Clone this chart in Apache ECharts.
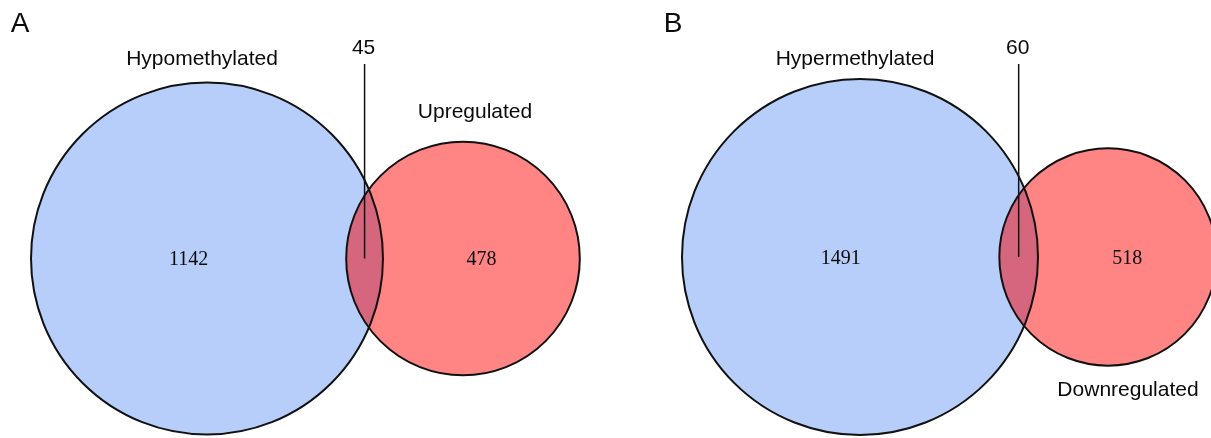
<!DOCTYPE html>
<html>
<head>
<meta charset="utf-8">
<title>Venn diagrams</title>
<script src="https://cdn.jsdelivr.net/npm/echarts@6/dist/echarts.min.js"></script>
<style>
  html, body { margin: 0; padding: 0; background: #fff; }
  #chart { width: 1211px; height: 438px; }
</style>
</head>
<body>
<div id="chart"></div>
<script>
// Panel letters and set names
const panels = ['A', 'B'];
const leftSets = ['Hypomethylated', 'Hypermethylated'];
const rightSets = ['Upregulated', 'Downregulated'];
// Gene counts per region
const leftOnly = [1142, 1491];
const shared = [45, 60];
const rightOnly = [478, 518];

// Placement of each diagram (pixel units of the hidden axes)
const layout = [
  { cx: 207, cy: 258.5, scale: 5.108, gap: 256, rightLabel: 'above' },
  { cx: 860, cy: 257, scale: 4.52, gap: 248, rightLabel: 'below' }
];

const W = 1211, H = 438;
const SANS = '"Liberation Sans", Arial, Helvetica, sans-serif';
const SERIF = '"Liberation Serif", "Times New Roman", serif';
const BLUE = '#B6CEF9';
const RED = '#FF8585';
const BOTH = '#D6657E';

function text(str, x, y, size, family) {
  return {
    type: 'text',
    style: {
      text: str, x: x, y: y,
      font: size + 'px ' + family,
      fill: '#0a0a0a',
      align: 'center',
      verticalAlign: 'middle'
    }
  };
}

function renderItem(params, api) {
  const i = params.dataIndex;
  const L = layout[i];
  const leftTotal = leftOnly[i] + shared[i];
  const rightTotal = rightOnly[i] + shared[i];
  // circle areas proportional to set sizes
  const r1 = api.size([L.scale * Math.sqrt(leftTotal), 0])[0];
  const r2 = api.size([L.scale * Math.sqrt(rightTotal), 0])[0];
  const c1 = api.coord([L.cx, L.cy]);
  const c2 = api.coord([L.cx + L.gap, L.cy]);
  const d = c2[0] - c1[0];
  const y = c1[1];

  // lens (intersection) outline
  const a = (d * d + r1 * r1 - r2 * r2) / (2 * d);
  const h = Math.sqrt(Math.max(r1 * r1 - a * a, 0));
  const t1 = Math.atan2(h, a);
  const t2 = Math.atan2(h, d - a);
  const pts = [];
  const N = 60;
  for (let k = 0; k <= N; k++) {
    const t = -t1 + (2 * t1) * k / N;
    pts.push([c1[0] + r1 * Math.cos(t), y + r1 * Math.sin(t)]);
  }
  for (let k = 0; k <= N; k++) {
    const t = Math.PI - t2 + (2 * t2) * k / N;
    pts.push([c2[0] + r2 * Math.cos(t), y - r2 * Math.sin(t)]);
  }

  const lensX = ((c2[0] - r2) + (c1[0] + r1)) / 2;
  const leftOnlyX = ((c1[0] - r1) + (c2[0] - r2)) / 2;
  const rightOnlyX = ((c1[0] + r1) + (c2[0] + r2)) / 2;
  const rightLabelPos = L.rightLabel === 'above'
    ? [c2[0] + 12, y - r2 - 29]
    : [c2[0] + 20, y + r2 + 25];

  return {
    type: 'group',
    children: [
      { type: 'circle', shape: { cx: c1[0], cy: y, r: r1 }, style: { fill: BLUE } },
      { type: 'circle', shape: { cx: c2[0], cy: y, r: r2 }, style: { fill: RED } },
      { type: 'polygon', shape: { points: pts }, style: { fill: BOTH } },
      { type: 'circle', shape: { cx: c1[0], cy: y, r: r1 }, style: { fill: 'none', stroke: '#111', lineWidth: 2 } },
      { type: 'circle', shape: { cx: c2[0], cy: y, r: r2 }, style: { fill: 'none', stroke: '#111', lineWidth: 2 } },
      { type: 'line', shape: { x1: lensX, y1: 64, x2: lensX, y2: y }, style: { stroke: '#111', lineWidth: 1.5 } },
      text(String(shared[i]), lensX - 1, 48, 21, SANS),
      text(String(leftOnly[i]), leftOnlyX, y + 1.5, 20, SERIF),
      text(String(rightOnly[i]), rightOnlyX, y + 1.5, 20, SERIF),
      text(leftSets[i], c1[0] - 5, 59, 21, SANS),
      text(rightSets[i], rightLabelPos[0], rightLabelPos[1], 21, SANS),
      text(panels[i], c1[0] - 187, 24, 28, SANS)
    ]
  };
}

const chart = echarts.init(document.getElementById('chart'), null, { renderer: 'canvas' });
chart.setOption({
  animation: false,
  backgroundColor: '#fff',
  grid: { left: 0, right: 0, top: 0, bottom: 0 },
  xAxis: { type: 'value', min: 0, max: W, show: false },
  yAxis: { type: 'value', min: 0, max: H, inverse: true, show: false },
  series: [{
    type: 'custom',
    coordinateSystem: 'cartesian2d',
    clip: false,
    renderItem: renderItem,
    data: panels.map((p, i) => [layout[i].cx, layout[i].cy]),
    encode: { x: 0, y: 1 }
  }]
});
</script>
</body>
</html>
